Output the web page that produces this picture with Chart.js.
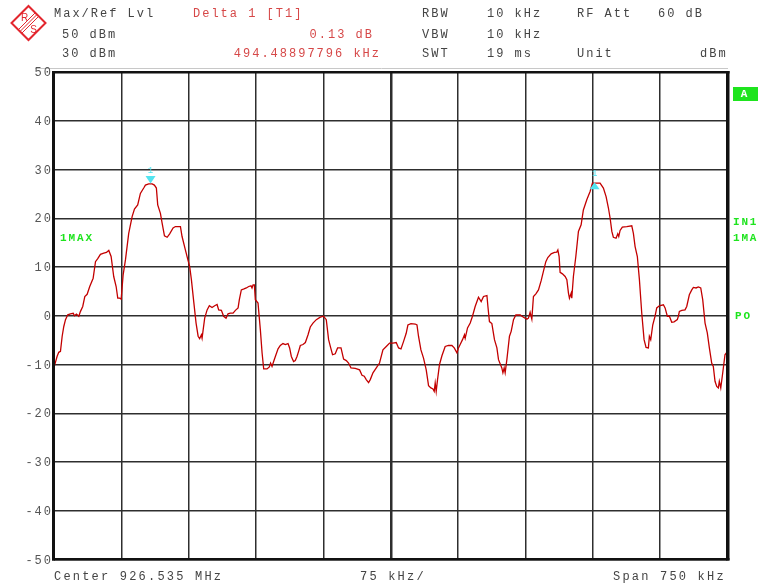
<!DOCTYPE html>
<html>
<head>
<meta charset="utf-8">
<title>Spectrum 926.535 MHz</title>
<script src="https://cdn.jsdelivr.net/npm/chart.js@4.4.1/dist/chart.umd.min.js"></script>
<style>
  html, body { margin: 0; padding: 0; background: #ffffff; }
  canvas { display: block; }
</style>
</head>
<body>
<canvas id="spectrum" width="758" height="587"></canvas>
<script>
// Trace 1 (max hold): frequency offset from center [kHz] and level [dBm]
const freqKHz = [
  -375, -371.5, -369.7, -367.8, -365.9, -364.1, -362.2, -359.7, -356.7, -353.6,
  -352.2, -350.0, -347.4, -345.5, -343.0, -340.7, -338.1, -335.2, -331.4, -328.8,
  -326.3, -323.3, -319.6, -316.6, -314.0, -311.4, -308.5, -305.8, -304.0, -301.8,
  -300.2, -298.0, -295.4, -291.8, -288.0, -285.4, -281.8, -278.8, -275.1, -273.2,
  -269.5, -265.7, -263.2, -261.0, -259.5, -256.5, -254.6, -252.0, -249.0, -246.2,
  -242.4, -239.8, -234.2, -232.4, -228.7, -226.1, -223.9,
  -222.0, -219.4, -216.8, -214.5, -212.8, -210.9, -210.1, -207.2, -204.5, -202.0,
  -199.0, -196.1, -193.4, -191.6, -188.6, -186.1, -183.4, -181.2, -178.6, -175.6,
  -173.0, -170.0, -168.6, -166.4, -163.4, -160.8, -158.2, -155.6, -154.5, -153.3,
  -151.9, -150.8, -147.8, -145.2, -143.3, -141.5, -137.8, -135.2, -133.8, -132.2,
  -130.4, -128.5, -125.5, -123.0, -120.0, -117.4, -114.4, -112.6, -110.7, -108.2,
  -106.3, -104.4, -102.6, -100.7, -97.7, -95.1, -92.1, -89.6, -86.6, -82.9,
  -78.5, -74.8,
  -71.8, -69.2, -67.3, -64.8, -61.8, -59.2, -55.4, -52.5, -49.5, -47.0,
  -44.3, -39.5, -34.7, -32.0, -29.5, -27.3, -24.7, -22.8, -19.8, -16.1,
  -12.5, -8.7, -5.0, -1.3, 2.4, 6.1, 8.7, 11.4, 14.2, 17.2,
  19.1, 22.5, 27.3, 29.2, 30.9, 33.6, 36.5, 39.5, 42.1, 44.7,
  47.0, 48.4, 49.5, 50.6, 52.1, 54.3, 57.0, 60.6, 64.3, 68.1,
  70.7, 73.7, 75.4,
  77.3, 79.9, 82.1, 82.9, 85.5, 88.5, 91.0, 94.0, 97.7, 100.7,
  103.3, 107.1, 108.2, 109.9, 112.6, 115.5, 118.2, 120.0, 123.7, 124.9,
  126.3, 127.4, 129.3, 132.2, 134.1, 136.7, 139.3, 144.1, 147.8, 151.6,
  153.3, 155.2, 157.1, 158.9, 161.6, 164.5, 167.5, 170.0, 172.7, 174.9,
  178.6, 182.3, 184.9, 186.1, 187.5, 188.6, 191.2, 194.2, 196.1, 197.9,
  199.0, 200.9, 201.6, 203.4, 206.1, 209.0, 212.0, 214.5, 218.3, 222.0,
  224.6,
  229.5, 233.1, 236.8, 239.8, 242.4, 244.3, 246.2, 247.9, 250.9, 252.8,
  253.9, 255.4, 257.9, 262.8, 268.4, 270.2, 272.1, 274.6, 276.9, 279.5,
  282.1, 284.3, 286.9, 288.0, 289.5, 291.8, 294.3, 296.2, 299.1, 303.6,
  305.5, 308.0, 310.3, 312.9, 315.5, 319.1, 320.3, 321.4, 324.1, 327.7,
  329.6, 332.5, 335.2, 337.0, 340.0, 342.5, 345.2, 347.4, 350.0, 352.5,
  354.8, 357.4, 359.2, 361.1, 363.0, 364.8, 365.9, 367.5, 369.7, 372.2,
  375.0
];
const levelDBm = [
  -10.6, -8.3, -7.5, -7.3, -4.2, -2.2, -0.8, 0.2, 0.4, 0.5,
  0.0, 0.35, -0.1, 0.9, 1.9, 3.95, 4.4, 6.0, 7.7, 11.1,
  11.7, 12.6, 12.85, 13.0, 13.4, 12.15, 8.05, 6.0, 3.6, 3.6,
  3.4, 8.4, 11.5, 16.9, 20.35, 21.9, 22.75, 25.1, 26.2, 26.8,
  27.05, 27.05, 26.8, 26.2, 22.75, 21.0, 19.0, 16.4, 16.1, 16.8,
  18.0, 18.3, 18.3, 16.25, 13.5, 11.6, 10.1,
  7.4, 2.9, -1.5, -4.2, -4.7, -3.9, -4.6, -0.5, 1.2, 2.05,
  1.7, 2.05, 2.3, 1.2, 1.1, -0.1, -0.5, 0.4, 0.55, 0.55,
  1.1, 1.6, 3.3, 5.3, 5.5, 5.7, 6.0, 6.15, 5.7, 6.35,
  6.35, 3.3, 2.6, -2.9, -7.6, -10.9, -10.9, -10.5, -9.7, -10.4,
  -9.4, -8.35, -6.8, -6.1, -5.7, -5.9, -5.7, -6.6, -8.35, -9.4,
  -9.2, -8.35, -7.3, -6.1, -5.9, -5.5, -3.9, -2.3, -1.5, -0.8,
  -0.3, -0.1,
  -0.8, -4.9, -6.3, -8.0, -7.8, -6.6, -6.6, -8.9, -9.2, -9.7,
  -10.7, -10.8, -11.1, -12.2, -12.4, -13.1, -13.7, -13.1, -11.7, -10.7,
  -9.7, -7.0, -6.3, -5.6, -5.6, -5.5, -6.6, -6.8, -5.3, -3.6,
  -1.9, -1.6, -1.7, -1.9, -4.2, -7.0, -8.7, -11.1, -14.35, -14.8,
  -15.0, -15.5, -13.8, -15.5, -13.1, -10.0, -8.2, -6.3, -6.1, -6.1,
  -6.6, -7.6, -6.6,
  -5.9, -4.9, -3.9, -4.6, -2.5, -1.5, -0.1, 1.9, 3.8, 2.9,
  3.95, 4.15, 1.9, -1.2, -1.6, -4.9, -6.6, -9.0, -10.7, -11.7,
  -10.7, -11.7, -9.0, -4.2, -3.2, -0.8, 0.15, 0.15, -0.3, -0.7,
  -0.5, 0.7, -0.7, 3.95, 4.5, 5.3, 7.2, 9.1, 11.1, 11.95,
  12.7, 13.0, 13.05, 13.5, 12.15, 8.9, 8.6, 8.05, 7.4, 4.65,
  3.6, 4.65, 3.6, 8.05, 12.15, 17.3, 18.65, 21.7, 23.8, 25.5,
  27.2,
  27.2, 27.2, 26.2, 24.45, 22.1, 20.0, 17.3, 16.1, 15.9, 16.8,
  16.25, 17.5, 18.2, 18.3, 18.45, 16.9, 14.2, 12.15, 7.4, 0.55,
  -4.9, -6.5, -6.6, -4.2, -4.9, -1.85, -0.1, 1.6, 2.05, 2.25,
  1.6, -0.1, -0.1, -1.35, -1.25, -0.8, -0.1, 0.9, 1.1, 1.2,
  1.9, 4.3, 5.3, 5.8, 5.7, 5.9, 5.7, 3.3, -1.5, -3.5,
  -6.6, -9.7, -10.4, -13.45, -14.5, -14.8, -13.45, -14.8, -11.7, -8.0,
  -7.3
];

// Level axis labels [dBm]
const levelTicks = [50, 40, 30, 20, 10, 0, -10, -20, -30, -40, -50];

// Marker 1 (reference) and delta marker 1
const marker1FreqKHz = -267.5;
const marker1LevelDBm = 27.05;
const delta1FreqKHz = 494.48897796;
const delta1LevelDB = 0.13;

// Screen annotation text
const headerLeft = ['Max/Ref Lvl', '50 dBm', '30 dBm'];
const headerDelta = ['Delta 1 [T1]', '0.13 dB', '494.48897796 kHz'];
const headerSetup = [['RBW', '10 kHz'], ['VBW', '10 kHz'], ['SWT', '19 ms']];
const headerRight = [['RF Att', '60 dB'], ['', ''], ['Unit', 'dBm']];
const footer = ['Center 926.535 MHz', '75 kHz/', 'Span 750 kHz'];
const traceLabels = ['1MAX', 'IN1', '1MA', 'PO', 'A'];

const tracePoints = freqKHz.map((f, i) => ({ x: f, y: levelDBm[i] }));

const MONO = '"Liberation Mono", "DejaVu Sans Mono", monospace';
const GREEN = '#1ee41e';
const CYAN = '#52e4f0';

function spacedText(ctx, str, x, y, spacing, align) {
  ctx.letterSpacing = spacing + 'px';
  let w = ctx.measureText(str).width;
  if (align === 'right') x = x - w + spacing;
  ctx.textAlign = 'left';
  ctx.fillText(str, x, y);
  ctx.letterSpacing = '0px';
}

const screenDecor = {
  id: 'screenDecor',
  beforeDraw(chart) {
    const ctx = chart.ctx;
    ctx.save();
    ctx.fillStyle = '#ffffff';
    ctx.fillRect(0, 0, chart.width, chart.height);
    ctx.restore();
  },
  afterDraw(chart) {
    const ctx = chart.ctx;
    const a = chart.chartArea;
    const xs = chart.scales.x, ys = chart.scales.y;
    ctx.save();

    // thin separator above the diagram
    ctx.strokeStyle = '#c8c8c8';
    ctx.lineWidth = 1;
    ctx.beginPath();
    ctx.moveTo(35, 68.5);
    ctx.lineTo(728, 68.5);
    ctx.stroke();

    // diagram frame
    ctx.fillStyle = '#111111';
    ctx.fillRect(a.left - 2, a.top - 1, a.right - a.left + 4, 2.5);
    ctx.fillRect(a.left - 2, a.bottom - 1.5, a.right - a.left + 4, 2.5);
    ctx.fillRect(a.left - 2, a.top - 1, 3, a.bottom - a.top + 2);
    ctx.fillRect(a.right - 1.5, a.top - 1, 3.5, a.bottom - a.top + 2);

    // level labels
    ctx.font = '12px ' + MONO;
    ctx.fillStyle = '#555555';
    ctx.textBaseline = 'middle';
    levelTicks.forEach(v => {
      spacedText(ctx, String(v), a.left - 3, ys.getPixelForValue(v) + 1, 2.0, 'right');
    });

    // header block
    ctx.textBaseline = 'middle';
    ctx.fillStyle = '#444444';
    spacedText(ctx, headerLeft[0], 54, 14, 2.0);
    spacedText(ctx, headerLeft[1], 62, 35, 2.0);
    spacedText(ctx, headerLeft[2], 62, 54, 2.0);
    const rowsY = [14, 35, 54];
    headerSetup.forEach((r, i) => {
      spacedText(ctx, r[0], 422, rowsY[i], 2.0);
      spacedText(ctx, r[1], 487, rowsY[i], 2.0);
    });
    headerRight.forEach((r, i) => {
      if (r[0]) spacedText(ctx, r[0], 577, rowsY[i], 2.0);
    });
    spacedText(ctx, headerRight[0][1], 658, 14, 2.0);
    spacedText(ctx, headerRight[2][1], 700, 54, 2.0);

    ctx.fillStyle = '#d64848';
    spacedText(ctx, headerDelta[0], 193, 14, 2.0);
    spacedText(ctx, headerDelta[1], 372, 35, 2.0, 'right');
    spacedText(ctx, headerDelta[2], 379, 54, 2.0, 'right');

    // footer
    ctx.fillStyle = '#444444';
    spacedText(ctx, footer[0], 54, 577, 2.2);
    spacedText(ctx, footer[1], 360, 577, 2.2);
    spacedText(ctx, footer[2], 613, 577, 2.2);

    // trace / status labels
    ctx.font = 'bold 11px ' + MONO;
    ctx.fillStyle = GREEN;
    spacedText(ctx, traceLabels[0], 60, 238, 1.9);
    spacedText(ctx, traceLabels[1], 733, 222, 1.8);
    spacedText(ctx, traceLabels[2], 733, 238, 1.8);
    spacedText(ctx, traceLabels[3], 735, 316, 1.8);
    ctx.fillRect(733, 87, 25, 14);
    ctx.fillStyle = '#ffffff';
    ctx.textAlign = 'center';
    ctx.fillText(traceLabels[4], 744, 94.5);

    // markers
    const m1x = xs.getPixelForValue(marker1FreqKHz);
    const m1y = ys.getPixelForValue(marker1LevelDBm);
    const d1x = xs.getPixelForValue(marker1FreqKHz + delta1FreqKHz);
    const d1y = ys.getPixelForValue(marker1LevelDBm + delta1LevelDB);
    ctx.fillStyle = CYAN;
    ctx.strokeStyle = CYAN;
    ctx.beginPath();
    ctx.moveTo(m1x - 5, m1y - 8);
    ctx.lineTo(m1x + 5, m1y - 8);
    ctx.lineTo(m1x, m1y - 0.5);
    ctx.closePath();
    ctx.fill();
    ctx.beginPath();
    ctx.moveTo(d1x, d1y - 1);
    ctx.lineTo(d1x + 5, d1y + 6);
    ctx.lineTo(d1x - 5, d1y + 6);
    ctx.closePath();
    ctx.fill();
    ctx.font = '9px ' + MONO;
    ctx.textAlign = 'center';
    ctx.textBaseline = 'middle';
    ctx.fillText('1', m1x, m1y - 13);
    ctx.fillText('1', d1x, d1y - 10);

    // manufacturer logo
    const cx = 28.5, cy = 23, r = 17;
    ctx.strokeStyle = '#e3262e';
    ctx.fillStyle = '#e3262e';
    ctx.lineWidth = 2;
    ctx.beginPath();
    ctx.moveTo(cx, cy - r);
    ctx.lineTo(cx + r, cy);
    ctx.lineTo(cx, cy + r);
    ctx.lineTo(cx - r, cy);
    ctx.closePath();
    ctx.stroke();
    ctx.lineWidth = 1;
    [-2.5, 0, 2.5].forEach(o => {
      ctx.beginPath();
      ctx.moveTo(cx - r / 2 + o * 0.7, cy + r / 2 + o * 0.7);
      ctx.lineTo(cx + r / 2 + o * 0.7, cy - r / 2 + o * 0.7);
      ctx.stroke();
    });
    ctx.font = '10px "Liberation Sans", sans-serif';
    ctx.textAlign = 'center';
    ctx.textBaseline = 'middle';
    ctx.fillText('R', cx - 4, cy - 5);
    ctx.fillText('S', cx + 5, cy + 7);

    ctx.restore();
  }
};

new Chart(document.getElementById('spectrum'), {
  type: 'line',
  data: {
    datasets: [{
      label: '1MAX',
      data: tracePoints,
      borderColor: '#c30000',
      borderWidth: 1.3,
      pointRadius: 0,
      tension: 0,
      fill: false
    }]
  },
  options: {
    responsive: false,
    animation: false,
    devicePixelRatio: 1,
    layout: { padding: { top: 72, bottom: 27.5, left: 0, right: 30.5 } },
    plugins: {
      legend: { display: false },
      tooltip: { enabled: false }
    },
    scales: {
      x: {
        type: 'linear',
        min: -375,
        max: 375,
        ticks: { stepSize: 75, display: false },
        grid: {
          color: '#2e2e2e',
          lineWidth: c => (c.tick && c.tick.value === 0 ? 2.5 : 1.5),
          drawTicks: false
        },
        border: { display: false },
        afterFit(s) { s.height = 0; }
      },
      y: {
        type: 'linear',
        min: -50,
        max: 50,
        ticks: { stepSize: 10, display: false },
        grid: { color: '#2e2e2e', lineWidth: 1.5, drawTicks: false },
        border: { display: false },
        afterFit(s) { s.width = 54; }
      }
    }
  },
  plugins: [screenDecor]
});
</script>
</body>
</html>
